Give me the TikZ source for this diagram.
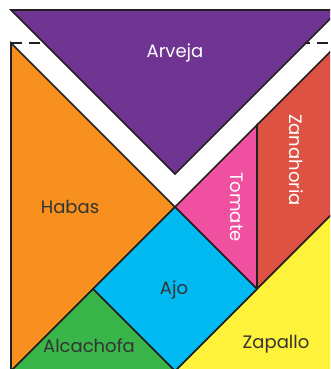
\documentclass[tikz,border=0pt]{standalone}
\usepackage{fontspec}
\setmainfont{Poppins}
\definecolor{cpurple}{RGB}{112,53,146}
\definecolor{corange}{RGB}{247,144,30}
\definecolor{cred}{RGB}{222,82,68}
\definecolor{cpink}{RGB}{240,80,160}
\definecolor{cblue}{RGB}{0,186,241}
\definecolor{cgreen}{RGB}{57,181,74}
\definecolor{cyellow}{RGB}{255,242,58}
\definecolor{cline}{RGB}{35,31,32}
\definecolor{ctext}{RGB}{51,51,51}
\begin{document}
\begin{tikzpicture}[x=1pt,y=-1pt,
  piece/.style={draw=cline,line width=1.6pt,line join=miter},
  lbl/.style={font=\fontsize{18}{20}\selectfont,text=ctext,inner sep=0pt},
  wlbl/.style={lbl,text=white}]
\useasboundingbox (0,0) rectangle (330,369);
\clip (0,0) rectangle (330,369);
% original top edge (dashed)
\coordinate (TL) at (11,43);
\coordinate (TR) at (339,43);
\coordinate (BL) at (11,371);
\coordinate (BR) at (339,371);
\coordinate (C) at (175,207);
\draw[cline,line width=1.6pt,dash pattern=on 11pt off 7pt] (TL) -- (TR);
% Habas
\fill[corange] (TL) -- (C) -- (BL) -- cycle;
\draw[piece] (TL) -- (C) -- (BL) -- cycle;
% Arveja (moved up)
\coordinate (A1) at (11,10);
\coordinate (A2) at (339,10);
\coordinate (A3) at (175,174);
\draw[piece,fill=cpurple] (A1) -- (A2) -- (A3) -- cycle;
% Zanahoria
\coordinate (Z1) at (257,125);
\coordinate (Z2) at (339,207);
\coordinate (Z3) at (257,289);
\draw[piece,fill=cred] (Z1) -- (TR) -- (Z2) -- (Z3) -- cycle;
% Tomate
\draw[piece,fill=cpink] (C) -- (Z1) -- (Z3) -- cycle;
% Zapallo
\coordinate (B0) at (175,371);
\draw[piece,fill=cyellow] (B0) -- (Z2) -- (BR) -- cycle;
% Ajo
\coordinate (J1) at (93,289);
\draw[piece,fill=cblue] (C) -- (Z3) -- (B0) -- (J1) -- cycle;
% Alcachofa
\draw[piece,fill=cgreen] (J1) -- (BL) -- (B0) -- cycle;
% labels
\node[wlbl] (arveja) at (175,53) {Arveja};
\node[lbl] (habas) at (70,207) {Habas};
\node[wlbl,rotate=-90] (zanahoria) at (296,160) {Zanahoria};
\node[wlbl,rotate=-90] (tomate) at (237,207) {Tomate};
\node[lbl] (ajo) at (174,290) {Ajo};
\node[lbl] (alcachofa) at (89,346) {Alcachofa};
\node[lbl] (zapallo) at (276,344) {Zapallo};
\end{tikzpicture}
\end{document}
